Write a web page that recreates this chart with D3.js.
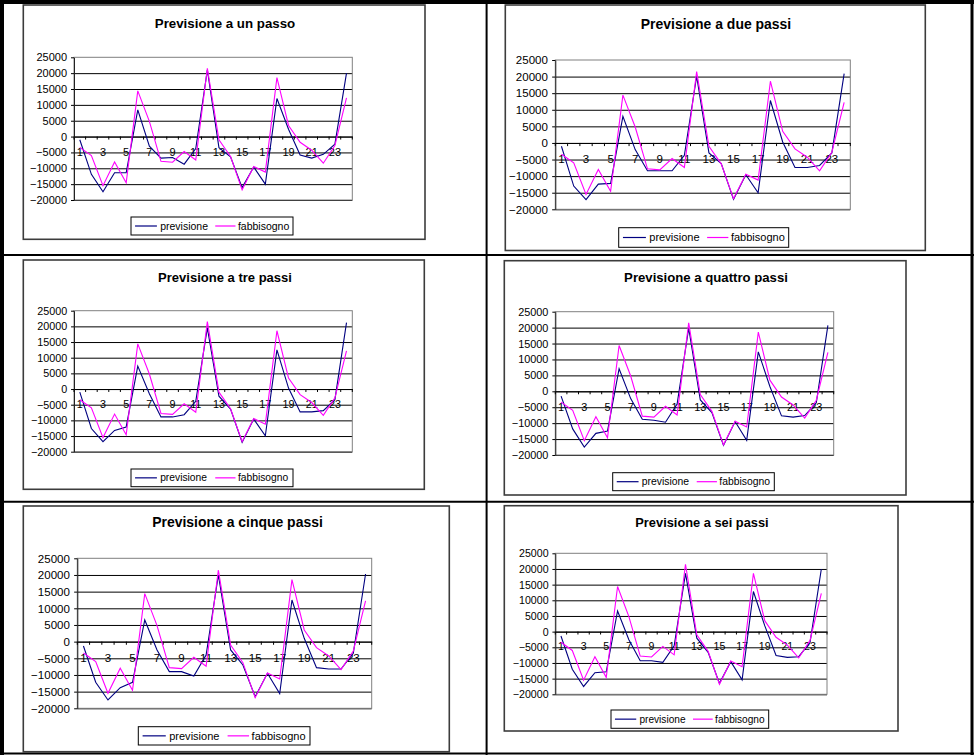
<!DOCTYPE html>
<html>
<head>
<meta charset="utf-8">
<script src="https://cdn.jsdelivr.net/npm/d3@7"></script>
<style>
  html, body { margin: 0; padding: 0; background: #fff; }
  svg { display: block; }
</style>
</head>
<body>
<svg id="chart" width="974" height="755"></svg>
<script>
// ---- data ----
const categories = [1, 2, 3, 4, 5, 6, 7, 8, 9, 10, 11, 12, 13, 14, 15, 16, 17, 18, 19, 20, 21, 22, 23, 24];
const categoryLabels = [1, 3, 5, 7, 9, 11, 13, 15, 17, 19, 21, 23];
const yTicks = [-20000, -15000, -10000, -5000, 0, 5000, 10000, 15000, 20000, 25000];
const seriesNames = ["previsione", "fabbisogno"];

const fabbisogno = [-3400, -6000, -15500, -8000, -14600, 14400, 4800, -7800, -8100, -4700, -7400, 21500,
                    -1000, -6300, -16800, -9400, -11200, 18600, 3500, -1800, -4300, -8400, -2800, 12200];

const previsioneUnPasso = [-1000, -11900, -17400, -11400, -11400, 8400, -3000, -6800, -6600, -8700, -3800, 21000,
                           -3500, -6400, -16100, -9600, -15000, 12000, 2300, -5800, -6800, -5600, -2400, 20000];
const previsioneDuePassi = [-1000, -13000, -17100, -12400, -12200, 8000, -2000, -8400, -8400, -8400, -3700, 20100,
                            -3000, -6200, -17000, -9600, -15000, 12800, 300, -7400, -7400, -6800, -3000, 20900];
const previsioneTrePassi = [-1000, -12600, -16800, -13200, -12100, 7300, -1500, -8900, -8900, -8200, -3900, 19500,
                            -2300, -6400, -17000, -9600, -14900, 12500, 300, -7300, -7300, -6900, -3400, 21200];
const previsioneQuattroPassi = [-1500, -11800, -17500, -13200, -12500, 7100, -2300, -8800, -9100, -9700, -4000, 19800,
                                -2700, -6700, -17000, -9500, -15400, 12400, 1500, -7700, -8100, -7600, -3600, 20700];
const previsioneCinquePassi = [-1300, -12200, -17500, -13800, -12200, 6500, -2500, -9000, -9000, -10300, -4000, 20000,
                               -2500, -7000, -16500, -9500, -15600, 12500, 1000, -7800, -8200, -8200, -3500, 20300];
const previsioneSeiPassi = [-1400, -12000, -17500, -13100, -12800, 6600, -2600, -9300, -9300, -9800, -4500, 18600,
                            -2100, -6600, -16500, -9600, -15400, 12800, 1900, -7600, -8200, -8000, -3500, 20000];

const titles = ["Previsione a un passo", "Previsione a due passi", "Previsione a tre passi",
                "Previsione a quattro passi", "Previsione a cinque passi", "Previsione a sei passi"];
const previsioni = [previsioneUnPasso, previsioneDuePassi, previsioneTrePassi,
                    previsioneQuattroPassi, previsioneCinquePassi, previsioneSeiPassi];

// ---- layout of the six chart objects inside the table ----
// box: chart frame [x0, y0, x1, y1]; plot: plotting area; legend: legend box; s: font scale
const panels = [
  { box: [23.3, 5, 425, 239.3],      plot: [74, 57.3, 352.3, 200],      title: [225, 28.3],   legend: [131, 217, 293, 235],       s: 1.0 },
  { box: [505.3, 5, 925.3, 250.5],   plot: [555.3, 60, 850.3, 209.3],   title: [716, 29.3],   legend: [618.7, 227.7, 788.7, 247.3], s: 1.05 },
  { box: [23.3, 260, 424.3, 489.3],  plot: [74, 310.7, 352.3, 451.7],   title: [225, 282.3],  legend: [131, 469, 293, 486.7],     s: 0.98 },
  { box: [504.3, 260.7, 906, 495],   plot: [555.3, 311.7, 833.7, 455],  title: [706, 282.3],  legend: [612.7, 472.7, 774.3, 490.7], s: 0.99 },
  { box: [23.3, 506, 449.3, 751.7],  plot: [77.3, 558.3, 371.7, 708.3], title: [237.5, 527.3], legend: [138.3, 726.7, 310, 745],   s: 1.05 },
  { box: [504.3, 505.7, 898, 731],   plot: [555.3, 553.3, 827, 694.3],  title: [702, 526.7],  legend: [611, 710, 768.7, 728.3],   s: 0.965 }
];

const FONT = "'Liberation Sans', Arial, Helvetica, sans-serif";
const COLORS = { previsione: "#000080", fabbisogno: "#ff00ff" };

const svg = d3.select("#chart");

function drawPanel(p, title, prev) {
  const g = svg.append("g");
  const [L, T, R, B] = p.plot;
  const s = p.s;

  // chart frame
  g.append("rect")
    .attr("x", p.box[0]).attr("y", p.box[1])
    .attr("width", p.box[2] - p.box[0]).attr("height", p.box[3] - p.box[1])
    .attr("fill", "#fff").attr("stroke", "#3c3c3c").attr("stroke-width", 1.6);

  // title
  g.append("text")
    .attr("x", p.title[0]).attr("y", p.title[1])
    .attr("text-anchor", "middle")
    .attr("font-family", FONT).attr("font-weight", "bold")
    .attr("font-size", 13.3 * s)
    .text(title);

  const x = d3.scaleBand().domain(categories).range([L, R]).paddingInner(0).paddingOuter(0);
  const y = d3.scaleLinear().domain([yTicks[0], yTicks[yTicks.length - 1]]).range([B, T]);
  const cx = c => x(c) + x.bandwidth() / 2;

  // horizontal gridlines
  const grid = g.append("g").attr("transform", `translate(${L},0)`)
    .call(d3.axisLeft(y).tickValues(yTicks.slice(0, -1)).tickSize(-(R - L)).tickFormat(""));
  grid.select(".domain").remove();
  grid.selectAll("line").attr("stroke", "#000").attr("stroke-width", 1);

  // plot area border
  g.append("rect")
    .attr("x", L).attr("y", T).attr("width", R - L).attr("height", B - T)
    .attr("fill", "none").attr("stroke", "#808080").attr("stroke-width", 1);

  // value axis
  const yAxis = g.append("g").attr("transform", `translate(${L},0)`)
    .call(d3.axisLeft(y).tickValues(yTicks).tickFormat(d3.format("d"))
      .tickSize(3 * s).tickPadding(4 * s).tickSizeOuter(0));
  yAxis.select(".domain").attr("stroke", "#222");
  yAxis.selectAll("line").attr("stroke", "#000");
  yAxis.selectAll("text").attr("font-family", FONT).attr("font-size", 11 * s).attr("fill", "#000");

  // category axis crossing at zero, tick marks between categories
  const y0 = y(0);
  const xAxis = g.append("g").attr("transform", `translate(0,${y0})`)
    .call(d3.axisBottom(x).tickValues(categoryLabels).tickSize(0).tickSizeOuter(0));
  xAxis.select(".domain").attr("stroke", "#000");
  xAxis.selectAll("text")
    .attr("y", 19.5 * s).attr("dy", 0)
    .attr("font-family", FONT).attr("font-size", 11 * s).attr("fill", "#000");
  const bounds = categories.map(c => x(c)).concat([x(categories[categories.length - 1]) + x.bandwidth()]);
  g.append("g").selectAll("line").data(bounds).join("line")
    .attr("x1", d => d).attr("x2", d => d)
    .attr("y1", y0).attr("y2", y0 + 3 * s)
    .attr("stroke", "#000").attr("stroke-width", 1);

  // series
  const line = d3.line().x((d, i) => cx(categories[i])).y(d => y(d));
  [[prev, COLORS.previsione], [fabbisogno, COLORS.fabbisogno]].forEach(([vals, col]) => {
    g.append("path").datum(vals)
      .attr("d", line)
      .attr("fill", "none").attr("stroke", col).attr("stroke-width", 1.1)
      .attr("stroke-linejoin", "miter");
  });

  // legend
  const [lx0, ly0, lx1, ly1] = p.legend;
  const lw = lx1 - lx0, lh = ly1 - ly0, lm = (ly0 + ly1) / 2;
  g.append("rect").attr("x", lx0).attr("y", ly0).attr("width", lw).attr("height", lh)
    .attr("fill", "#fff").attr("stroke", "#000").attr("stroke-width", 1);
  const items = [
    { name: seriesNames[0], col: COLORS.previsione, a: 0.025, b: 0.16, t: 0.18 },
    { name: seriesNames[1], col: COLORS.fabbisogno, a: 0.52, b: 0.645, t: 0.66 }
  ];
  items.forEach(it => {
    g.append("line")
      .attr("x1", lx0 + it.a * lw).attr("x2", lx0 + it.b * lw)
      .attr("y1", lm).attr("y2", lm)
      .attr("stroke", it.col).attr("stroke-width", 1.2);
    g.append("text")
      .attr("x", lx0 + it.t * lw).attr("y", lm).attr("dy", "0.35em")
      .attr("font-family", FONT).attr("font-size", 10.5 * s).attr("fill", "#000")
      .text(it.name);
  });
}

panels.forEach((p, i) => drawPanel(p, titles[i], previsioni[i]));

// table rules
const rules = [
  [0, 2, 974, 2, 4],          // top
  [2, 0, 2, 755, 4],          // left
  [972, 0, 972, 755, 3],      // right
  [0, 753.5, 974, 753.5, 2],  // bottom
  [486.6, 0, 486.6, 755, 2],  // middle column
  [0, 255, 974, 255, 2],      // first row divider
  [0, 501.7, 974, 501.7, 2]   // second row divider
];
svg.append("g").selectAll("line").data(rules).join("line")
  .attr("x1", d => d[0]).attr("y1", d => d[1])
  .attr("x2", d => d[2]).attr("y2", d => d[3])
  .attr("stroke", "#000").attr("stroke-width", d => d[4]);
</script>
</body>
</html>
